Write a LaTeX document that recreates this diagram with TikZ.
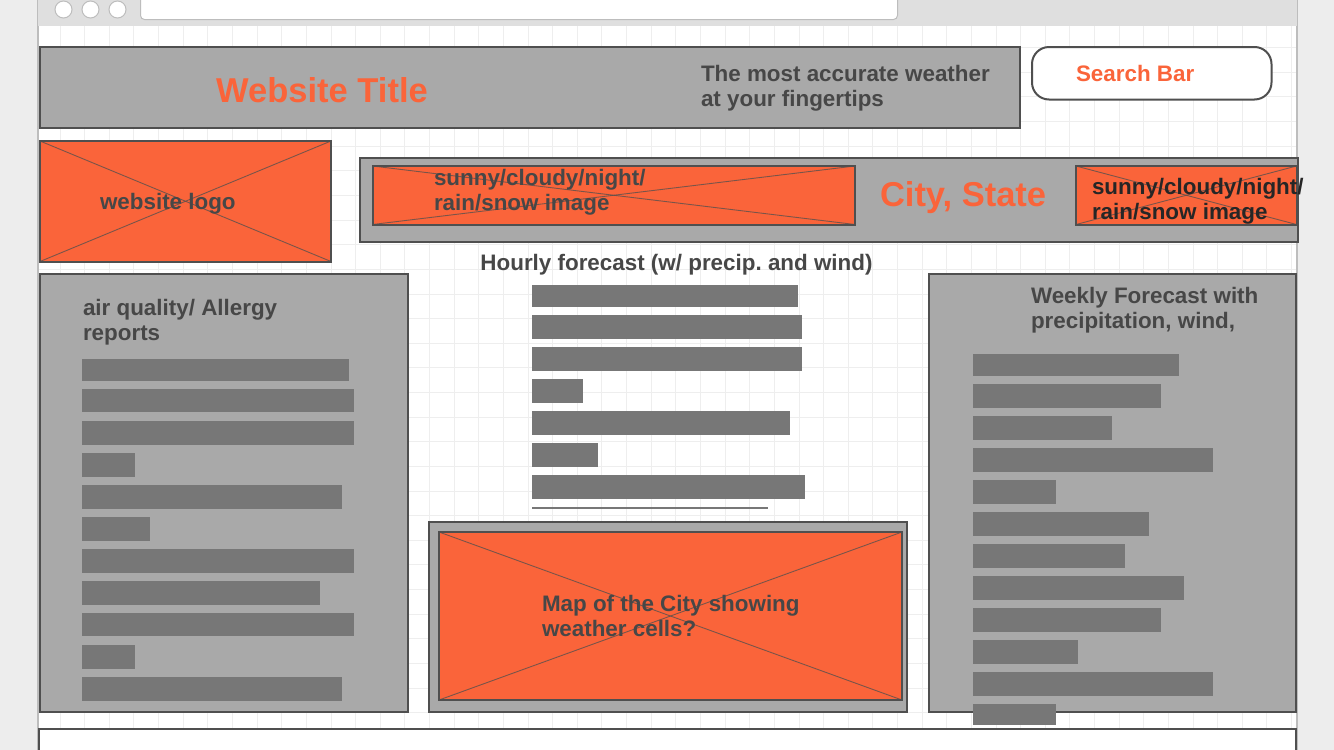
\documentclass[tikz,border=0pt]{standalone}
\usepackage{fontspec}
\setmainfont{Liberation Sans}
\definecolor{orng}{HTML}{FA643A}
\definecolor{pgray}{HTML}{A9A9A9}
\definecolor{pborder}{HTML}{4F4F4F}
\definecolor{bgray}{HTML}{777777}
\definecolor{tdark}{HTML}{474747}
\definecolor{gridc}{HTML}{EEEEEE}
\definecolor{outside}{HTML}{EDEDED}
\definecolor{chrome}{HTML}{DFDFDF}
\definecolor{chromeline}{HTML}{BDBDBD}
\newcommand\wfMed{\fontsize{22.4pt}{25pt}\selectfont\bfseries\frenchspacing}
\newcommand\wfBig{\fontsize{34.5pt}{40pt}\selectfont\bfseries}
\begin{document}
\begin{tikzpicture}[x=1pt,y=-1pt,
  box/.style={anchor=north west, inner sep=0pt, outer sep=0pt, line width=2pt, draw=pborder},
  panel/.style={box, fill=pgray},
  img/.style={box, fill=orng},
  bar/.style={anchor=north west, inner sep=0pt, outer sep=0pt, fill=bgray},
  xline/.style={draw=pborder, line width=0.9pt, opacity=0.75},
  lbl/.style={inner sep=0pt, outer sep=0pt, align=left, text=tdark, font=\wfMed},
  olbl/.style={inner sep=0pt, outer sep=0pt, text=orng},
  dot/.style={circle, draw=chromeline, fill=white, line width=1pt, minimum size=17pt, inner sep=0pt},
  gridline/.style={draw=gridc, line width=0.8pt}
]
\useasboundingbox (0,0) rectangle (1334,750);
\fill[outside] (0,0) rectangle (1334,750);
% browser window
\node[anchor=north west, fill=white, draw=chromeline, line width=1.5pt, minimum width=1259pt, minimum height=760pt, inner sep=0pt, outer sep=0pt] (page) at (38,-5) {};
\foreach \k in {0,...,50} \draw[gridline] ({60+24.63*\k},26) -- ({60+24.63*\k},750);
\foreach \k in {1,...,29} \draw[gridline] (39,{23+24.63*\k}) -- (1296,{23+24.63*\k});
\node[anchor=north west, fill=chrome, minimum width=1259pt, minimum height=26pt, inner sep=0pt, outer sep=0pt] (chromebar) at (38,0) {};
\node[anchor=north west, fill=white, draw=chromeline, line width=1pt, rounded corners=4pt, minimum width=757pt, minimum height=25pt, inner sep=0pt] (addr) at (140,-6) {};
\node[dot] (d1) at (63.5,9.5) {};
\node[dot] (d2) at (90.5,9.5) {};
\node[dot] (d3) at (117.5,9.5) {};
% header
\node[panel, minimum width=980pt, minimum height=81pt] (header) at (40,47) {};
\node[olbl, font=\wfBig, anchor=base] (title) at (322,102.5) {Website Title};
\node[lbl, anchor=west] (tagline) at (701,88.5) {The most accurate weather\\at your fingertips};
\node[box, fill=white, rounded corners=17pt, minimum width=239.5pt, minimum height=52.5pt] (search) at (1032,47) {};
\node[olbl, font=\wfMed, anchor=base west] (searchtxt) at (1076,81) {Search Bar};
% logo
\node[img, minimum width=291pt, minimum height=120.5pt] (logo) at (40,141) {};
\draw[xline] (logo.north west) -- (logo.south east);
\draw[xline] (logo.south west) -- (logo.north east);
\node[lbl, anchor=base west] (logotxt) at (100,209) {website logo};
% city band
\node[panel, minimum width=938pt, minimum height=84pt] (cityband) at (360,158) {};
\node[img, minimum width=482.5pt, minimum height=58.5pt] (sky1) at (372.5,166) {};
\draw[xline] (sky1.north west) -- (sky1.south east);
\draw[xline] (sky1.south west) -- (sky1.north east);
\node[lbl, anchor=west] (sky1txt) at (434,192.5) {sunny/cloudy/night/\\rain/snow image};
\node[olbl, font=\wfBig, anchor=base west] (city) at (880,206.5) {City, State};
\node[img, minimum width=220.5pt, minimum height=58.5pt] (sky2) at (1076,166) {};
\draw[xline] (sky2.north west) -- (sky2.south east);
\draw[xline] (sky2.south west) -- (sky2.north east);
\node[lbl, anchor=west, text=black!85] (sky2txt) at (1092,201.5) {sunny/cloudy/night/\\rain/snow image};
% hourly
\node[lbl, anchor=base] (hourlytxt) at (676.5,270.5) {Hourly forecast (w/ precip. and wind)};
\foreach \t/\b/\r [count=\i] in {285/307/797.5, 315/339/802, 347/371/802, 379/403/583, 411/435/790, 443/467/598, 475/499/805}
  \node[bar, minimum width={(\r-531.5)*1pt}, minimum height={(\b-\t)*1pt}] (hr\i) at (531.5,\t) {};
\node[bar, minimum width=236.5pt, minimum height=2.5pt] (hrline) at (531.5,506.5) {};
% air quality
\node[panel, minimum width=367.5pt, minimum height=437.5pt] (airq) at (40,274) {};
\node[lbl, anchor=west] (aqtxt) at (83,322.7) {air quality/ Allergy\\reports};
\foreach \t/\b/\r [count=\i] in {359/381/349, 389/412/354, 421/445/354, 453/477/135, 485/509/342, 517/541/150, 549/573/354, 581/605/320, 613/636/354, 645/669/135, 677/701/342}
  \node[bar, minimum width={(\r-81.5)*1pt}, minimum height={(\b-\t)*1pt}] (aq\i) at (81.5,\t) {};
% weekly
\node[panel, minimum width=367.5pt, minimum height=437.5pt] (weekly) at (928.5,274) {};
\node[lbl, anchor=west] (wktxt) at (1031,310.5) {Weekly Forecast with\\precipitation, wind,};
\foreach \t/\b/\r [count=\i] in {354/375.5/1178.5, 384/408/1161, 416/440/1112, 448/472/1213, 480/504/1055.5, 512/536/1149, 544/568/1124.5, 576/600/1183.5, 608/632/1161, 640/664/1077.5, 672/696/1213, 704/725/1055.5}
  \node[bar, minimum width={(\r-972.5)*1pt}, minimum height={(\b-\t)*1pt}] (wk\i) at (972.5,\t) {};
% map
\node[panel, minimum width=478pt, minimum height=190.5pt] (mapouter) at (429,521.5) {};
\node[img, minimum width=463pt, minimum height=168pt] (map) at (439,532) {};
\draw[xline] (map.north west) -- (map.south east);
\draw[xline] (map.south west) -- (map.north east);
\node[lbl, anchor=west] (maptxt) at (542,616) {Map of the City showing\\weather cells?};
% footer
\node[box, fill=white, minimum width=1257.5pt, minimum height=40pt] (footer) at (38.5,728.5) {};
\end{tikzpicture}
\end{document}
